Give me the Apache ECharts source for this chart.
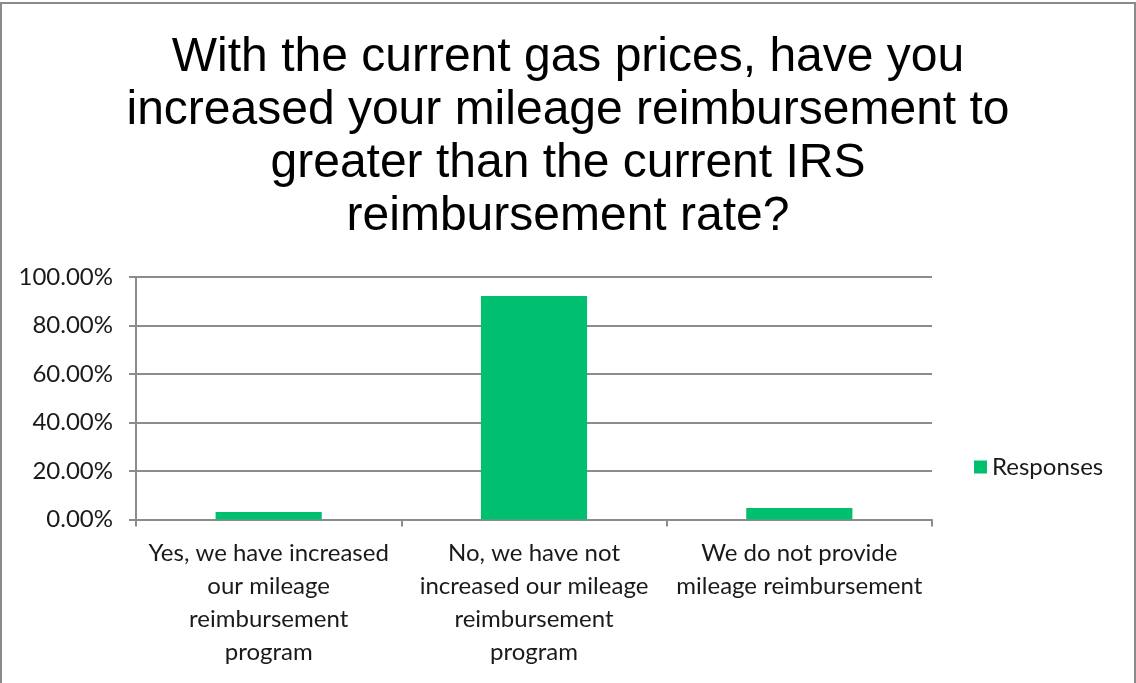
<!DOCTYPE html>
<html>
<head>
<meta charset="utf-8">
<script src="https://cdn.jsdelivr.net/npm/echarts@6/dist/echarts.min.js"></script>
<style>
  html, body { margin: 0; padding: 0; background: #fff; }
  #frame {
    position: absolute; left: 0; top: 2px; width: 1132px; height: 681px;
    border-top: 2px solid #8a8a8a; border-left: 2px solid #8a8a8a; border-right: 2px solid #8a8a8a;
  }
  #chart { position: absolute; left: 0; top: 0; width: 1136px; height: 683px; }
</style>
</head>
<body>
<div id="frame"></div>
<div id="chart"></div>
<script>
// answer options (line breaks as they wrap in the picture)
const categories = [
    "Yes, we have increased\nour mileage\nreimbursement\nprogram",
    "No, we have not\nincreased our mileage\nreimbursement\nprogram",
    "We do not provide\nmileage reimbursement"
];
// share of responses, in percent
const responses = [3.1, 92.2, 4.7];
const seriesName = "Responses";
const titleText = "With the current gas prices, have you\nincreased your mileage reimbursement to\ngreater than the current IRS\nreimbursement rate?";

const chart = echarts.init(document.getElementById("chart"));
const axisGray = "#8c8c8c";
const labelFont = "Lato";

const option = {
    animation: false,
    title: {
        text: titleText,
        left: "center",
        top: 26,
        textStyle: {
            fontFamily: "Liberation Sans",
            fontSize: 48,
            fontWeight: "normal",
            lineHeight: 53,
            color: "#000"
        }
    },
    legend: {
        data: [seriesName],
        left: 969,
        top: 450,
        icon: "rect",
        itemWidth: 13,
        itemHeight: 13,
        itemGap: 6,
        textStyle: { fontFamily: labelFont, fontSize: 24, color: "#1a1a1a" }
    },
    grid: { left: 136, right: 204, top: 277, bottom: 163.5 },
    xAxis: {
        type: "category",
        data: categories,
        axisLine: { lineStyle: { color: axisGray, width: 2 } },
        axisTick: { show: true, length: 7, lineStyle: { color: axisGray, width: 2 } },
        axisLabel: {
            interval: 0,
            margin: 17,
            fontFamily: labelFont,
            fontSize: 24,
            lineHeight: 33,
            color: "#1a1a1a"
        }
    },
    yAxis: {
        type: "value",
        min: 0,
        max: 100,
        interval: 20,
        axisLine: { show: true, lineStyle: { color: axisGray, width: 2 } },
        axisTick: { show: true, length: 7, lineStyle: { color: axisGray, width: 2 } },
        splitLine: { lineStyle: { color: axisGray, width: 2 } },
        axisLabel: {
            margin: 23,
            fontFamily: labelFont,
            fontSize: 24,
            color: "#1a1a1a",
            formatter: (v) => v.toFixed(2) + "%"
        }
    },
    series: [
        {
            name: seriesName,
            type: "bar",
            data: responses,
            barWidth: "40%",
            itemStyle: { color: "#00bf6f" }
        }
    ]
};
chart.setOption(option);
</script>
</body>
</html>
